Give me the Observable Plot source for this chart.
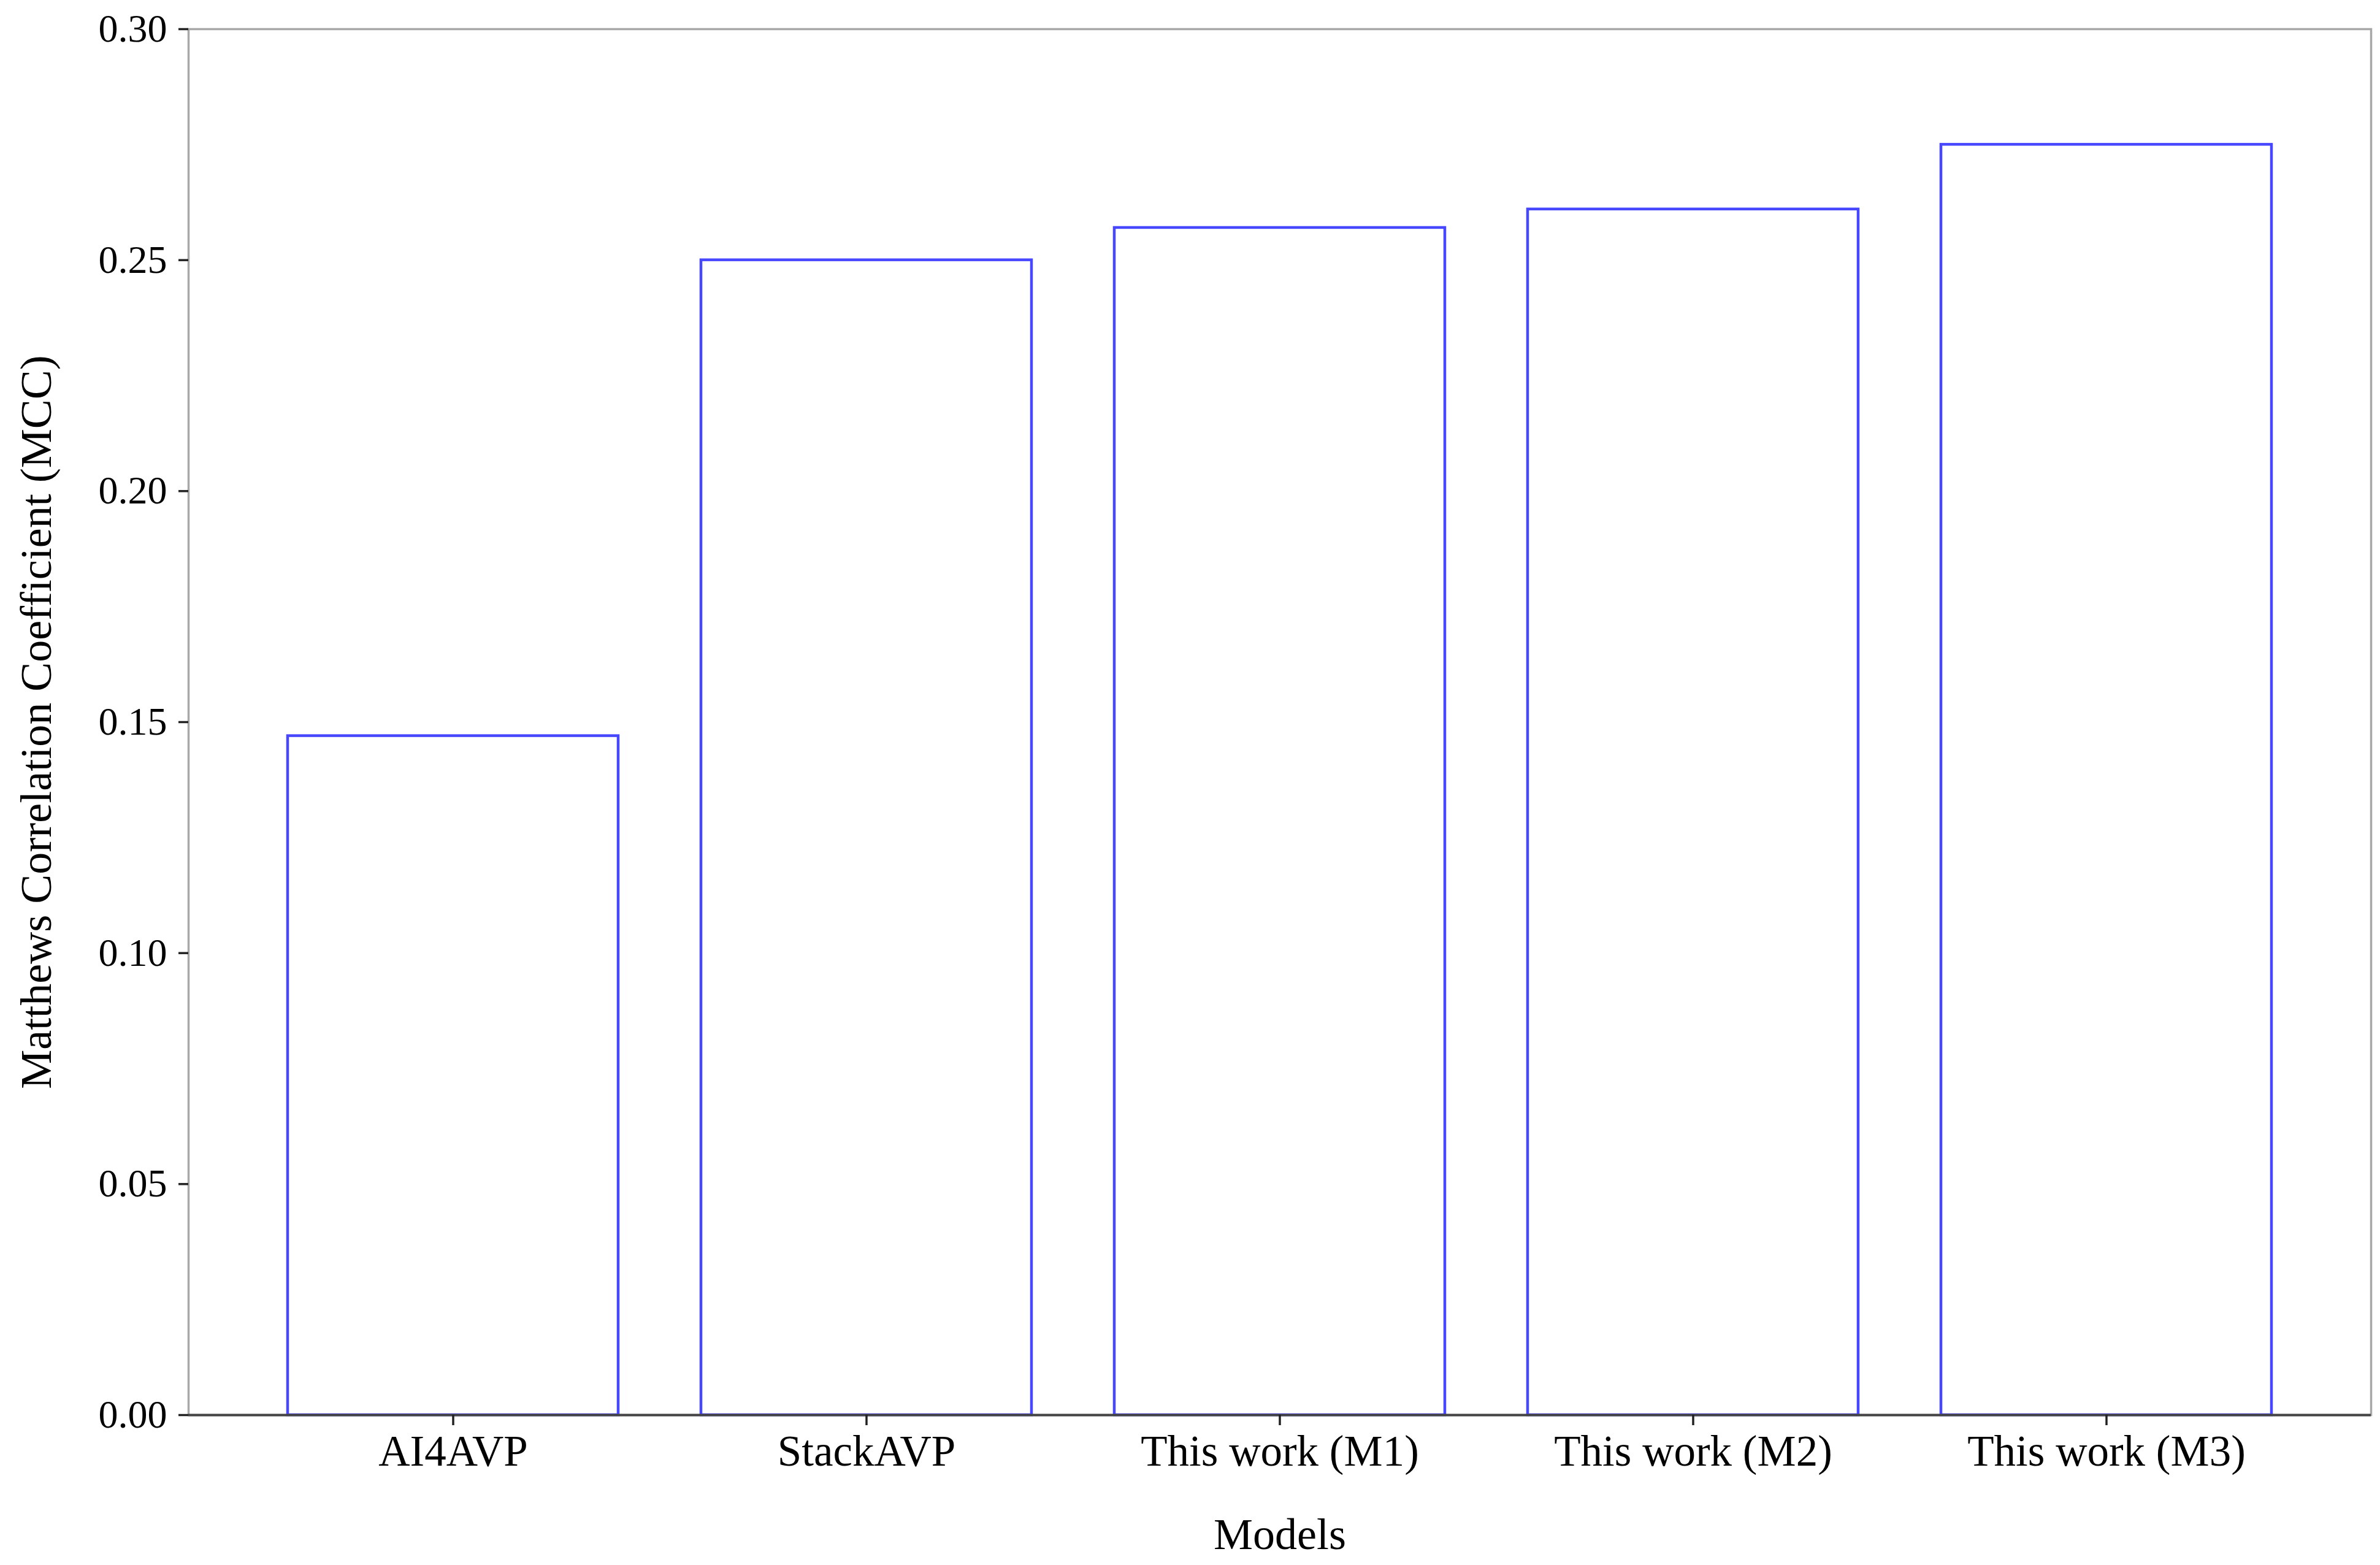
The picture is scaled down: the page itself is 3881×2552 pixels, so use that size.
<!DOCTYPE html>
<html>
<head>
<meta charset="utf-8">
<script src="https://cdn.jsdelivr.net/npm/d3@7"></script>
<script src="https://cdn.jsdelivr.net/npm/@observablehq/plot@0.6"></script>
<style>
  html, body { margin: 0; padding: 0; background: #ffffff; }
  #chart svg { display: block; }
</style>
</head>
<body>
<div id="chart"></div>
<script>
const models = ["AI4AVP", "StackAVP", "This work (M1)", "This work (M2)", "This work (M3)"];
const mcc = [0.147, 0.250, 0.257, 0.261, 0.275];
const yTicks = [0.00, 0.05, 0.10, 0.15, 0.20, 0.25, 0.30];
const xLabel = ["Models"];
const yLabel = ["Matthews Correlation Coefficient (MCC)"];

const data = models.map((m, i) => ({model: m, value: mcc[i]}));

const W = 3881, H = 2552;
const mL = 307, mR = 15, mT = 47, mB = 245;

const chart = Plot.plot({
  width: W,
  height: H,
  marginLeft: mL,
  marginRight: mR,
  marginTop: mT,
  marginBottom: mB,
  style: {fontFamily: "'Liberation Serif', 'Times New Roman', serif", color: "#000", background: "#fff", fontSize: "64px"},
  x: {domain: models, paddingInner: 0.2, paddingOuter: 0.24, align: 0.5},
  y: {domain: [0, 0.3]},
  marks: [
    Plot.frame({stroke: "#a8a8a8", strokeWidth: 3.5}),
    Plot.barY(data, {x: "model", y: "value", fill: "white", stroke: "blue", strokeOpacity: 0.72, strokeWidth: 4.5}),
    Plot.ruleY([0], {stroke: "#444444", strokeWidth: 4}),
    Plot.axisY({ticks: yTicks, tickFormat: d => d.toFixed(2), tickSize: 16, tickPadding: 19, fontSize: 64, strokeWidth: 3.5, stroke: "#222", label: null}),
    Plot.axisX({tickSize: 17, tickPadding: 15, fontSize: 71, strokeWidth: 3.5, stroke: "#222", label: null}),
    Plot.text(xLabel, {text: d => d, frameAnchor: "bottom", dy: 195, lineAnchor: "middle", textAnchor: "middle", fontSize: 72, fill: "#000"}),
    Plot.text(yLabel, {text: d => d, frameAnchor: "left", dx: -248, rotate: -90, lineAnchor: "middle", textAnchor: "middle", fontSize: 72, fill: "#000"})
  ]
});
document.getElementById("chart").appendChild(chart);
</script>
</body>
</html>
